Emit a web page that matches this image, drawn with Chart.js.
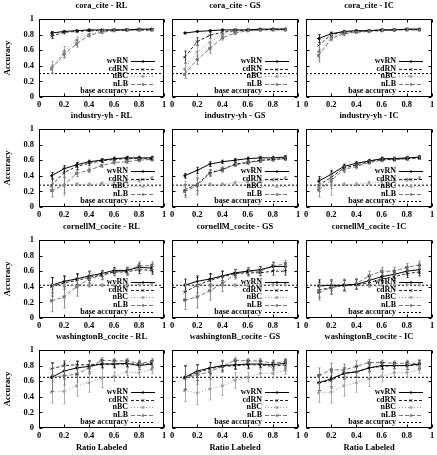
<!DOCTYPE html>
<html>
<head>
<meta charset="utf-8">
<script src="https://cdn.jsdelivr.net/npm/chart.js@4.4.0/dist/chart.umd.min.js"></script>
<style>
  html, body { margin: 0; padding: 0; background: #fff; }
  #wrap { position: relative; width: 437px; height: 455px; overflow: hidden; }
  #wrap canvas { position: absolute; }
</style>
</head>
<body>
<div id="wrap"></div>
<script>
// x values (ratio labeled) shared by every panel
const ratios = [0.1, 0.2, 0.3, 0.4, 0.5, 0.6, 0.7, 0.8, 0.9];
const seriesNames = ['wvRN', 'cdRN', 'nBC', 'nLB'];
const dataNames = ['cora_cite', 'industry-yh', 'cornellM_cocite', 'washingtonB_cocite'];
const methodNames = ['RL', 'GS', 'IC'];
const baseAccuracy = [0.30, 0.28, 0.42, 0.65];
const tickValues = [0, 0.2, 0.4, 0.6, 0.8, 1];

// means, one row per series (wvRN, cdRN, nBC, nLB)
const cora_RL = [
  [0.82, 0.84, 0.85, 0.86, 0.86, 0.86, 0.86, 0.87, 0.87],
  [0.78, 0.83, 0.84, 0.85, 0.85, 0.86, 0.86, 0.86, 0.86],
  [0.38, 0.58, 0.73, 0.80, 0.84, 0.85, 0.86, 0.86, 0.86],
  [0.36, 0.55, 0.68, 0.79, 0.83, 0.85, 0.86, 0.86, 0.86]];
const cora_GS = [
  [0.82, 0.84, 0.85, 0.86, 0.86, 0.86, 0.87, 0.87, 0.87],
  [0.51, 0.71, 0.79, 0.83, 0.85, 0.86, 0.86, 0.87, 0.87],
  [0.36, 0.58, 0.70, 0.80, 0.84, 0.85, 0.86, 0.86, 0.86],
  [0.29, 0.48, 0.62, 0.76, 0.82, 0.85, 0.86, 0.86, 0.86]];
const cora_IC = [
  [0.75, 0.81, 0.84, 0.85, 0.85, 0.86, 0.86, 0.87, 0.87],
  [0.66, 0.80, 0.83, 0.84, 0.85, 0.86, 0.86, 0.87, 0.86],
  [0.58, 0.77, 0.82, 0.83, 0.85, 0.86, 0.86, 0.87, 0.86],
  [0.53, 0.75, 0.81, 0.83, 0.84, 0.85, 0.86, 0.86, 0.86]];
const industry_RL = [
  [0.40, 0.49, 0.54, 0.58, 0.60, 0.62, 0.63, 0.63, 0.63],
  [0.28, 0.44, 0.52, 0.56, 0.59, 0.61, 0.62, 0.62, 0.62],
  [0.26, 0.28, 0.29, 0.29, 0.30, 0.31, 0.33, 0.34, 0.37],
  [0.21, 0.28, 0.43, 0.47, 0.53, 0.57, 0.58, 0.60, 0.61]];
const industry_GS = [
  [0.40, 0.47, 0.55, 0.58, 0.60, 0.62, 0.63, 0.63, 0.64],
  [0.22, 0.29, 0.44, 0.48, 0.55, 0.57, 0.60, 0.61, 0.62],
  [0.28, 0.28, 0.29, 0.29, 0.31, 0.32, 0.33, 0.35, 0.37],
  [0.20, 0.27, 0.43, 0.48, 0.54, 0.57, 0.59, 0.61, 0.62]];
const industry_IC = [
  [0.33, 0.42, 0.52, 0.56, 0.59, 0.62, 0.62, 0.63, 0.64],
  [0.28, 0.38, 0.50, 0.54, 0.58, 0.61, 0.61, 0.62, 0.63],
  [0.25, 0.28, 0.29, 0.29, 0.31, 0.32, 0.34, 0.35, 0.37],
  [0.22, 0.34, 0.48, 0.52, 0.57, 0.60, 0.61, 0.62, 0.63]];
const cornell_RL = [
  [0.42, 0.47, 0.50, 0.54, 0.57, 0.61, 0.61, 0.65, 0.64],
  [0.40, 0.45, 0.48, 0.52, 0.55, 0.59, 0.59, 0.62, 0.61],
  [0.41, 0.42, 0.42, 0.42, 0.42, 0.42, 0.42, 0.43, 0.43],
  [0.22, 0.27, 0.40, 0.50, 0.55, 0.59, 0.60, 0.67, 0.67]];
const cornell_GS = [
  [0.42, 0.47, 0.50, 0.54, 0.58, 0.60, 0.62, 0.66, 0.66],
  [0.33, 0.42, 0.48, 0.53, 0.57, 0.58, 0.58, 0.60, 0.60],
  [0.42, 0.42, 0.42, 0.42, 0.42, 0.42, 0.42, 0.43, 0.43],
  [0.23, 0.27, 0.35, 0.44, 0.56, 0.60, 0.60, 0.67, 0.69]];
const cornell_IC = [
  [0.41, 0.42, 0.42, 0.43, 0.48, 0.53, 0.56, 0.60, 0.62],
  [0.36, 0.39, 0.42, 0.43, 0.45, 0.50, 0.53, 0.57, 0.59],
  [0.42, 0.42, 0.42, 0.42, 0.42, 0.42, 0.42, 0.43, 0.43],
  [0.33, 0.39, 0.42, 0.44, 0.54, 0.60, 0.60, 0.65, 0.68]];
const washington_RL = [
  [0.65, 0.73, 0.77, 0.79, 0.82, 0.82, 0.83, 0.80, 0.82],
  [0.76, 0.80, 0.81, 0.81, 0.82, 0.82, 0.82, 0.82, 0.82],
  [0.46, 0.47, 0.54, 0.58, 0.64, 0.66, 0.72, 0.71, 0.75],
  [0.65, 0.67, 0.69, 0.77, 0.87, 0.86, 0.86, 0.83, 0.85]];
const washington_GS = [
  [0.65, 0.73, 0.77, 0.80, 0.81, 0.82, 0.82, 0.81, 0.83],
  [0.64, 0.71, 0.76, 0.79, 0.80, 0.81, 0.81, 0.79, 0.81],
  [0.48, 0.45, 0.50, 0.54, 0.61, 0.65, 0.70, 0.70, 0.74],
  [0.64, 0.68, 0.72, 0.79, 0.87, 0.86, 0.86, 0.83, 0.85]];
const washington_IC = [
  [0.58, 0.63, 0.70, 0.72, 0.77, 0.80, 0.80, 0.80, 0.82],
  [0.58, 0.61, 0.70, 0.72, 0.77, 0.79, 0.80, 0.80, 0.81],
  [0.45, 0.46, 0.54, 0.58, 0.63, 0.66, 0.71, 0.71, 0.75],
  [0.67, 0.75, 0.74, 0.79, 0.84, 0.84, 0.83, 0.83, 0.83]];

// error bar half widths, same layout
const cora_RL_err = [
  [0.02, 0.01, 0.01, 0.01, 0.01, 0.01, 0.01, 0.01, 0.01],
  [0.03, 0.02, 0.01, 0.01, 0.01, 0.01, 0.01, 0.01, 0.01],
  [0.08, 0.07, 0.04, 0.02, 0.02, 0.01, 0.01, 0.01, 0.01],
  [0.05, 0.05, 0.04, 0.02, 0.01, 0.01, 0.01, 0.01, 0.01]];
const cora_GS_err = [
  [0.01, 0.01, 0.01, 0.01, 0.01, 0.01, 0.01, 0.01, 0.01],
  [0.08, 0.05, 0.04, 0.02, 0.02, 0.01, 0.01, 0.01, 0.01],
  [0.07, 0.06, 0.05, 0.03, 0.02, 0.01, 0.01, 0.01, 0.01],
  [0.05, 0.06, 0.06, 0.03, 0.02, 0.01, 0.01, 0.01, 0.01]];
const cora_IC_err = [
  [0.05, 0.02, 0.01, 0.01, 0.01, 0.01, 0.01, 0.01, 0.01],
  [0.08, 0.03, 0.02, 0.01, 0.01, 0.01, 0.01, 0.01, 0.01],
  [0.09, 0.03, 0.02, 0.01, 0.01, 0.01, 0.01, 0.01, 0.01],
  [0.08, 0.03, 0.02, 0.01, 0.01, 0.01, 0.01, 0.01, 0.01]];
const industry_RL_err = [
  [0.04, 0.04, 0.03, 0.02, 0.02, 0.02, 0.02, 0.02, 0.02],
  [0.08, 0.06, 0.04, 0.03, 0.02, 0.02, 0.02, 0.02, 0.02],
  [0.05, 0.13, 0.02, 0.02, 0.02, 0.02, 0.02, 0.02, 0.02],
  [0.08, 0.10, 0.04, 0.03, 0.02, 0.02, 0.02, 0.02, 0.02]];
const industry_GS_err = [
  [0.03, 0.04, 0.03, 0.02, 0.02, 0.02, 0.02, 0.02, 0.02],
  [0.07, 0.08, 0.04, 0.03, 0.02, 0.02, 0.02, 0.02, 0.02],
  [0.05, 0.13, 0.02, 0.02, 0.02, 0.02, 0.02, 0.02, 0.02],
  [0.08, 0.10, 0.04, 0.03, 0.02, 0.02, 0.02, 0.02, 0.02]];
const industry_IC_err = [
  [0.06, 0.05, 0.03, 0.02, 0.02, 0.02, 0.02, 0.02, 0.02],
  [0.08, 0.07, 0.04, 0.03, 0.02, 0.02, 0.02, 0.02, 0.02],
  [0.05, 0.13, 0.02, 0.02, 0.02, 0.02, 0.02, 0.02, 0.02],
  [0.09, 0.10, 0.04, 0.03, 0.02, 0.02, 0.02, 0.02, 0.02]];
const cornell_RL_err = [
  [0.10, 0.07, 0.07, 0.06, 0.04, 0.04, 0.04, 0.05, 0.05],
  [0.12, 0.08, 0.08, 0.07, 0.05, 0.04, 0.04, 0.05, 0.05],
  [0.02, 0.02, 0.02, 0.02, 0.02, 0.02, 0.02, 0.02, 0.02],
  [0.14, 0.14, 0.12, 0.10, 0.06, 0.05, 0.05, 0.05, 0.05]];
const cornell_GS_err = [
  [0.08, 0.07, 0.07, 0.06, 0.04, 0.04, 0.04, 0.05, 0.05],
  [0.10, 0.10, 0.08, 0.07, 0.05, 0.04, 0.04, 0.05, 0.05],
  [0.02, 0.02, 0.02, 0.02, 0.02, 0.02, 0.02, 0.02, 0.02],
  [0.12, 0.14, 0.12, 0.10, 0.06, 0.05, 0.05, 0.05, 0.05]];
const cornell_IC_err = [
  [0.08, 0.07, 0.06, 0.06, 0.05, 0.05, 0.05, 0.05, 0.05],
  [0.10, 0.08, 0.07, 0.06, 0.05, 0.05, 0.05, 0.05, 0.05],
  [0.02, 0.02, 0.02, 0.02, 0.02, 0.02, 0.02, 0.02, 0.02],
  [0.10, 0.09, 0.08, 0.07, 0.06, 0.05, 0.05, 0.05, 0.05]];
const washington_RL_err = [
  [0.18, 0.10, 0.08, 0.07, 0.05, 0.05, 0.04, 0.05, 0.05],
  [0.08, 0.06, 0.05, 0.05, 0.04, 0.04, 0.04, 0.04, 0.04],
  [0.14, 0.16, 0.13, 0.12, 0.12, 0.06, 0.05, 0.06, 0.05],
  [0.18, 0.12, 0.10, 0.08, 0.03, 0.03, 0.03, 0.04, 0.04]];
const washington_GS_err = [
  [0.15, 0.08, 0.07, 0.06, 0.05, 0.05, 0.04, 0.05, 0.05],
  [0.15, 0.10, 0.08, 0.06, 0.05, 0.05, 0.04, 0.05, 0.05],
  [0.14, 0.15, 0.14, 0.12, 0.10, 0.06, 0.05, 0.06, 0.05],
  [0.15, 0.12, 0.10, 0.08, 0.03, 0.03, 0.03, 0.04, 0.04]];
const washington_IC_err = [
  [0.10, 0.10, 0.07, 0.07, 0.05, 0.04, 0.04, 0.05, 0.05],
  [0.10, 0.10, 0.07, 0.07, 0.05, 0.04, 0.04, 0.05, 0.05],
  [0.12, 0.14, 0.13, 0.12, 0.10, 0.06, 0.05, 0.06, 0.05],
  [0.10, 0.08, 0.08, 0.07, 0.04, 0.03, 0.03, 0.04, 0.04]];

const panelMeans = [
  [cora_RL, cora_GS, cora_IC],
  [industry_RL, industry_GS, industry_IC],
  [cornell_RL, cornell_GS, cornell_IC],
  [washington_RL, washington_GS, washington_IC]];
const panelErrs = [
  [cora_RL_err, cora_GS_err, cora_IC_err],
  [industry_RL_err, industry_GS_err, industry_IC_err],
  [cornell_RL_err, cornell_GS_err, cornell_IC_err],
  [washington_RL_err, washington_GS_err, washington_IC_err]];

// page layout (plot areas)
const colLeft = [39, 172, 306];
const colWidth = [125, 126, 126];
const rowTop = [19, 129, 240, 350];
const plotH = 78;

const FONT = "'Liberation Serif', 'Times New Roman', serif";
Chart.defaults.font.family = FONT;
Chart.defaults.color = '#000';

const looks = [
  { color: '#000', dash: [], point: 'cross' },
  { color: '#222', dash: [3, 2], point: 'crossRot' },
  { color: '#9a9a9a', dash: [1, 2], point: 'star' },
  { color: '#777', dash: [4, 2], point: 'rect' }
];

function mark(ctx, style, x, y, r) {
  ctx.beginPath();
  if (style === 'rect') {
    ctx.fillRect(x - r * 0.75, y - r * 0.75, r * 1.5, r * 1.5);
    return;
  }
  if (style === 'cross' || style === 'star') {
    ctx.moveTo(x - r, y); ctx.lineTo(x + r, y);
    ctx.moveTo(x, y - r); ctx.lineTo(x, y + r);
  }
  if (style === 'crossRot' || style === 'star') {
    const d = r * 0.75;
    ctx.moveTo(x - d, y - d); ctx.lineTo(x + d, y + d);
    ctx.moveTo(x - d, y + d); ctx.lineTo(x + d, y - d);
  }
  ctx.stroke();
}

// border box with inward ticks on all four sides, plus the panel title
const framePlugin = {
  id: 'frame',
  beforeDatasetsDraw(chart, args, opts) {
    const { ctx, chartArea: a, scales: { x, y } } = chart;
    ctx.save();
    ctx.strokeStyle = '#000';
    ctx.lineWidth = 1;
    ctx.setLineDash([]);
    const l = Math.round(a.left) + 0.5, r = Math.round(a.right) - 0.5;
    const t = Math.round(a.top) + 0.5, b = Math.round(a.bottom) - 0.5;
    ctx.strokeRect(l, t, r - l, b - t);
    ctx.beginPath();
    tickValues.forEach(v => {
      const px = Math.round(x.getPixelForValue(v)) + 0.5;
      ctx.moveTo(px, b); ctx.lineTo(px, b - 3);
      ctx.moveTo(px, t); ctx.lineTo(px, t + 3);
      const py = Math.round(y.getPixelForValue(v)) + 0.5;
      ctx.moveTo(l, py); ctx.lineTo(l + 3, py);
      ctx.moveTo(r, py); ctx.lineTo(r - 3, py);
    });
    ctx.stroke();
    ctx.fillStyle = '#000';
    ctx.font = 'bold 8.5px ' + FONT;
    ctx.textAlign = 'center';
    ctx.textBaseline = 'middle';
    ctx.fillText(opts.text, (a.left + a.right) / 2, a.top - 13);
    ctx.restore();
  }
};

const errorPlugin = {
  id: 'errbars',
  afterDatasetsDraw(chart) {
    const { ctx, scales: { x, y } } = chart;
    ctx.save();
    ctx.lineWidth = 0.8;
    ctx.setLineDash([]);
    chart.data.datasets.forEach(ds => {
      if (!ds.errors) return;
      ctx.strokeStyle = ds.borderColor;
      ctx.beginPath();
      ds.data.forEach((p, j) => {
        const px = Math.round(x.getPixelForValue(p.x)) + 0.5;
        const lo = y.getPixelForValue(p.y - ds.errors[j]);
        const hi = y.getPixelForValue(p.y + ds.errors[j]);
        ctx.moveTo(px, lo); ctx.lineTo(px, hi);
        ctx.moveTo(px - 1.2, lo); ctx.lineTo(px + 1.2, lo);
        ctx.moveTo(px - 1.2, hi); ctx.lineTo(px + 1.2, hi);
      });
      ctx.stroke();
    });
    ctx.restore();
  }
};

const keyPlugin = {
  id: 'key',
  afterDatasetsDraw(chart) {
    const { ctx, chartArea: a } = chart;
    const sets = chart.data.datasets;
    ctx.save();
    ctx.font = 'bold 8px ' + FONT;
    ctx.textAlign = 'right';
    ctx.textBaseline = 'middle';
    sets.forEach((ds, i) => {
      const yy = a.bottom - 6 - (sets.length - 1 - i) * 7.5;
      ctx.fillStyle = '#000';
      ctx.fillText(ds.label, a.right - 36, yy);
      ctx.strokeStyle = ds.borderColor;
      ctx.fillStyle = ds.borderColor;
      ctx.lineWidth = 1;
      ctx.setLineDash(ds.borderDash || []);
      ctx.beginPath();
      ctx.moveTo(a.right - 33, Math.round(yy) + 0.5);
      ctx.lineTo(a.right - 9, Math.round(yy) + 0.5);
      ctx.stroke();
      ctx.setLineDash([]);
      if (ds.pointRadius) mark(ctx, ds.pointStyle, a.right - 21, Math.round(yy) + 0.5, 1.6);
    });
    ctx.restore();
  }
};

const tickLabel = v => String(Math.round(v * 10) / 10);

function makePanel(row, col) {
  const means = panelMeans[row][col];
  const errs = panelErrs[row][col];
  const L = 39, R = 6, T = 19, B = row === 3 ? 26 : 12;
  const w = L + colWidth[col] + R, h = T + plotH + B;
  const canvas = document.createElement('canvas');
  canvas.width = w; canvas.height = h;
  canvas.style.left = (colLeft[col] - L) + 'px';
  canvas.style.top = (rowTop[row] - T) + 'px';
  canvas.style.width = w + 'px';
  canvas.style.height = h + 'px';
  document.getElementById('wrap').appendChild(canvas);

  const datasets = seriesNames.map((name, i) => ({
    label: name,
    data: ratios.map((r, j) => ({ x: r, y: means[i][j] })),
    errors: errs[i],
    borderColor: looks[i].color,
    backgroundColor: looks[i].color,
    pointBorderColor: looks[i].color,
    pointBackgroundColor: looks[i].color,
    borderWidth: 1,
    borderDash: looks[i].dash,
    pointStyle: looks[i].point,
    pointRadius: 1.6,
    pointBorderWidth: 0.9
  }));
  datasets.push({
    label: 'base accuracy',
    data: [{ x: 0, y: baseAccuracy[row] }, { x: 1, y: baseAccuracy[row] }],
    borderColor: '#000',
    borderWidth: 1,
    borderDash: [2, 2],
    pointRadius: 0
  });

  const tickFont = { family: FONT, size: 8.5, weight: 'bold' };
  new Chart(canvas, {
    type: 'line',
    data: { datasets },
    options: {
      responsive: false,
      animation: false,
      layout: { padding: { top: T, right: R, bottom: 0, left: 0 } },
      plugins: {
        legend: { display: false },
        tooltip: { enabled: false },
        title: { display: false },
        frame: { text: dataNames[row] + ' - ' + methodNames[col] }
      },
      scales: {
        x: {
          type: 'linear', min: 0, max: 1,
          ticks: { stepSize: 0.2, font: tickFont, color: '#000', padding: 3, maxRotation: 0, autoSkip: false, callback: tickLabel },
          grid: { display: false, drawTicks: false },
          border: { display: false },
          title: { display: row === 3, text: 'Ratio Labeled', color: '#000', font: tickFont, padding: { top: 0, bottom: 1 } },
          afterFit: s => { s.height = B; }
        },
        y: {
          type: 'linear', min: 0, max: 1,
          ticks: { display: col === 0, stepSize: 0.2, font: tickFont, color: '#000', padding: 5, callback: tickLabel },
          grid: { display: false, drawTicks: false },
          border: { display: false },
          title: { display: col === 0, text: 'Accuracy', color: '#000', font: tickFont, padding: { top: 3, bottom: 0 } },
          afterFit: s => { s.width = L; }
        }
      }
    },
    plugins: [framePlugin, errorPlugin, keyPlugin]
  });
}

for (let r = 0; r < 4; r++) {
  for (let c = 0; c < 3; c++) makePanel(r, c);
}
</script>
</body>
</html>
